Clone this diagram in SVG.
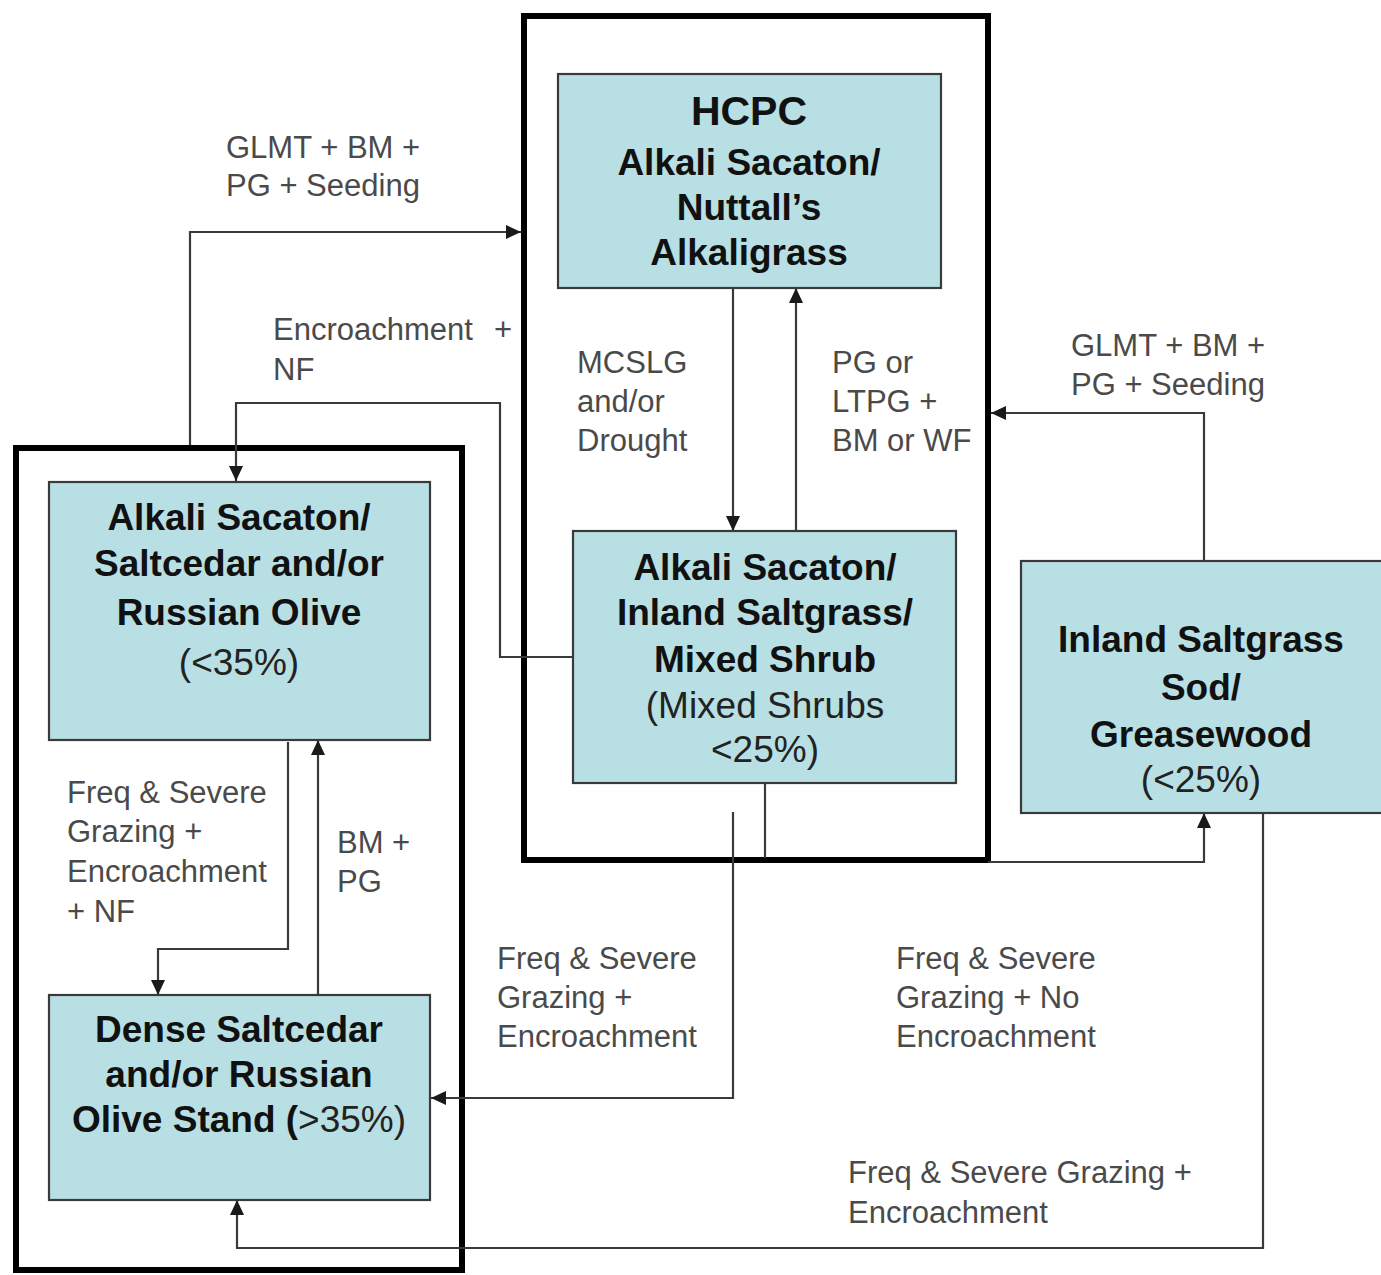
<svg xmlns="http://www.w3.org/2000/svg" width="1381" height="1275" viewBox="0 0 1381 1275">
<defs>
<marker id="ah" viewBox="0 0 15 14" refX="15" refY="7" markerWidth="15" markerHeight="14" markerUnits="userSpaceOnUse" orient="auto">
<path d="M0,0 L15,7 L0,14 z" fill="#1a1a1a"/>
</marker>
<style>
.node{fill:#b8dfe3;stroke:#3a3a3a;stroke-width:2.2}
.frame{fill:none;stroke:#000;stroke-width:6}
.c{fill:none;stroke:#3a3a3a;stroke-width:2.2}
.t{font-family:"Liberation Sans",Arial,sans-serif;font-size:37px;font-weight:bold;fill:#111;text-anchor:middle}
.r{font-weight:normal;fill:#222}
.l{font-family:"Liberation Sans",Arial,sans-serif;font-size:31px;fill:#4a4a4a}
</style>
</defs>
<rect width="1381" height="1275" fill="#fff"/>
<g id="frames">
<rect class="frame" x="524" y="16" width="464" height="844"/>
<rect class="frame" x="16" y="448" width="446" height="822"/>
</g>
<g id="connectors">
<path class="c" d="M190,445 V232 H521" marker-end="url(#ah)"/>
<path class="c" d="M573,657 H500 V403 H236 V481" marker-end="url(#ah)"/>
<path class="c" d="M733,288 V531" marker-end="url(#ah)"/>
<path class="c" d="M796,531 V288" marker-end="url(#ah)"/>
<path class="c" d="M1204,561 V413 H991" marker-end="url(#ah)"/>
<path class="c" d="M765,783 V858"/>
<path class="c" d="M988,862 H1204 V813" marker-end="url(#ah)"/>
<path class="c" d="M733,812 V1098 H431" marker-end="url(#ah)"/>
<path class="c" d="M288,742 V949 H158 V995" marker-end="url(#ah)"/>
<path class="c" d="M318,995 V740" marker-end="url(#ah)"/>
<path class="c" d="M1263,813 V1248 H237 V1200" marker-end="url(#ah)"/>
</g>
<g id="hcpc">
<rect class="node" x="558" y="74" width="383" height="214"/>
<text class="t" x="749" y="125" style="font-size:41px">HCPC</text>
<text class="t" x="749" y="175">Alkali Sacaton/</text>
<text class="t" x="749" y="220">Nuttall’s</text>
<text class="t" x="749" y="265">Alkaligrass</text>
</g>
<g id="mixed-shrub">
<rect class="node" x="573" y="531" width="383" height="252"/>
<text class="t" x="765" y="580">Alkali Sacaton/</text>
<text class="t" x="765" y="625">Inland Saltgrass/</text>
<text class="t" x="765" y="672">Mixed Shrub</text>
<text class="t r" x="765" y="718">(Mixed Shrubs</text>
<text class="t r" x="765" y="762">&lt;25%)</text>
</g>
<g id="saltgrass-sod">
<rect class="node" x="1021" y="561" width="372" height="252"/>
<text class="t" x="1201" y="652">Inland Saltgrass</text>
<text class="t" x="1201" y="700">Sod/</text>
<text class="t" x="1201" y="747">Greasewood</text>
<text class="t r" x="1201" y="792">(&lt;25%)</text>
</g>
<g id="saltcedar">
<rect class="node" x="49" y="482" width="381" height="258"/>
<text class="t" x="239" y="530">Alkali Sacaton/</text>
<text class="t" x="239" y="576">Saltcedar and/or</text>
<text class="t" x="239" y="625">Russian Olive</text>
<text class="t r" x="239" y="675">(&lt;35%)</text>
</g>
<g id="dense-saltcedar">
<rect class="node" x="49" y="995" width="381" height="205"/>
<text class="t" x="239" y="1042">Dense Saltcedar</text>
<text class="t" x="239" y="1087">and/or Russian</text>
<text class="t" x="239" y="1132">Olive Stand (<tspan class="r">&gt;35%)</tspan></text>
</g>
<g id="labels">
<text class="l" x="226" y="158">GLMT + BM +</text>
<text class="l" x="226" y="196">PG + Seeding</text>
<text class="l" x="273" y="340">Encroachment <tspan x="494">+</tspan></text>
<text class="l" x="273" y="380">NF</text>
<text class="l" x="577" y="373">MCSLG</text>
<text class="l" x="577" y="412">and/or</text>
<text class="l" x="577" y="451">Drought</text>
<text class="l" x="832" y="373">PG or</text>
<text class="l" x="832" y="412">LTPG +</text>
<text class="l" x="832" y="451">BM or WF</text>
<text class="l" x="1071" y="356">GLMT + BM +</text>
<text class="l" x="1071" y="395">PG + Seeding</text>
<text class="l" x="67" y="803">Freq &amp; Severe</text>
<text class="l" x="67" y="842">Grazing +</text>
<text class="l" x="67" y="882">Encroachment</text>
<text class="l" x="67" y="922">+ NF</text>
<text class="l" x="337" y="853">BM +</text>
<text class="l" x="337" y="892">PG</text>
<text class="l" x="497" y="969">Freq &amp; Severe</text>
<text class="l" x="497" y="1008">Grazing +</text>
<text class="l" x="497" y="1047">Encroachment</text>
<text class="l" x="896" y="969">Freq &amp; Severe</text>
<text class="l" x="896" y="1008">Grazing + No</text>
<text class="l" x="896" y="1047">Encroachment</text>
<text class="l" x="848" y="1183">Freq &amp; Severe Grazing +</text>
<text class="l" x="848" y="1223">Encroachment</text>
</g>
</svg>
